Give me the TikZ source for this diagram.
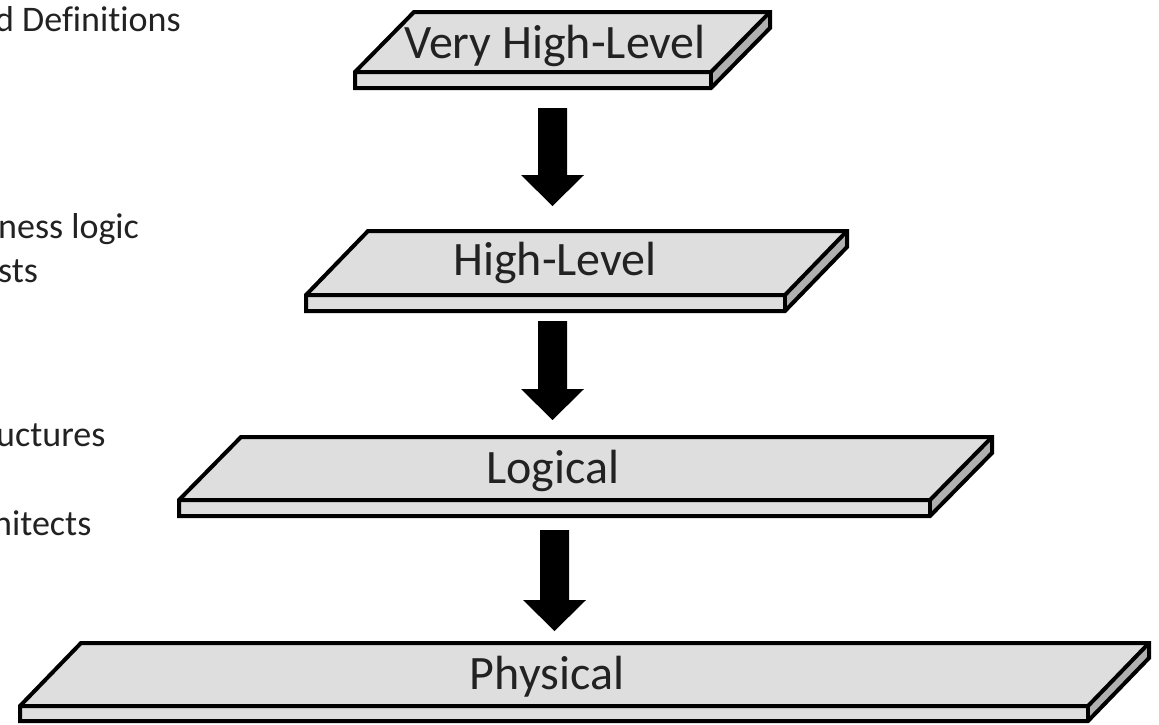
\documentclass[tikz,border=0pt]{standalone}
\usepackage{fontspec}
\setmainfont{Carlito}[Ligatures=NoCommon]
\usetikzlibrary{calc}
\definecolor{slabtop}{HTML}{DEDEDE}
\definecolor{slabside}{HTML}{B0B0B0}
\definecolor{ink}{HTML}{222222}
\tikzset{
  slabline/.style={draw=black, line width=4pt, line join=miter},
  slabtext/.style={font=\fontsize{48}{54}\selectfont, text=ink, inner sep=0pt},
  sidetext/.style={font=\fontsize{36}{42}\selectfont, text=ink, inner sep=0pt, anchor=base west},
  blockarrow/.style={fill=black, draw=none},
}
% slab: #1 name, #2 front-left x, #3 front-right x, #4 front-top y, #5 depth dx, #6 depth dy, #7 thickness
\newcommand{\slab}[7]{%
  \coordinate (#1-fl) at (#2,#4);
  \coordinate (#1-fr) at (#3,#4);
  \coordinate (#1-bl) at (#2+#5,#4-#6);
  \coordinate (#1-br) at (#3+#5,#4-#6);
  \coordinate (#1-flb) at (#2,#4+#7);
  \coordinate (#1-frb) at (#3,#4+#7);
  \coordinate (#1-brb) at (#3+#5,#4-#6+#7);
  \fill[slabtop] (#1-fl) -- (#1-bl) -- (#1-br) -- (#1-fr) -- cycle;
  \fill[slabtop] (#1-fl) -- (#1-fr) -- (#1-frb) -- (#1-flb) -- cycle;
  \fill[slabside] (#1-fr) -- (#1-br) -- (#1-brb) -- (#1-frb) -- cycle;
  \draw[slabline] (#1-fl) -- (#1-bl) -- (#1-br) -- (#1-brb) -- (#1-frb) -- (#1-flb) -- cycle;
  \draw[slabline] (#1-fl) -- (#1-fr) -- (#1-br);
  \draw[slabline] (#1-fr) -- (#1-frb);
}
% block arrow from (#1) pointing down to (#2)
\newcommand{\blockarrow}[2]{%
  \fill[blockarrow] ($(#1)+(-14.5,0)$) -- ($(#1)+(14.5,0)$) -- ($(#2)+(14.5,-31)$)
    -- ($(#2)+(31.5,-31)$) -- (#2) -- ($(#2)+(-31.5,-31)$) -- ($(#2)+(-14.5,-31)$) -- cycle;
}
\begin{document}
\begin{tikzpicture}[x=1pt, y=-1pt]
  \useasboundingbox (0,0) rectangle (1159,724);
  \fill[white] (0,0) rectangle (1159,724);

  % side notes (cut at the left edge)
  \node[sidetext] (n1) at (-5,31) {d Definitions};
  \node[sidetext] (n2) at (-2,238) {ness logic};
  \node[sidetext] (n3) at (-2,282) {sts};
  \node[sidetext] (n4) at (-4,446) {uctures};
  \node[sidetext] (n5) at (-7,535) {nitects};

  % the four layers
  \slab{vhl}{355}{711}{72}{59}{60}{16}
  \slab{hl}{306}{785}{295}{62}{64}{16}
  \slab{lg}{179}{930}{500}{62}{63}{16}
  \slab{ph}{20}{1088}{706}{61}{63}{15}

  \node[slabtext] (tvhl) at (555,46) {Very High-Level};
  \node[slabtext] (thl) at (555,263) {High-Level};
  \node[slabtext] (tlg) at (553,471) {Logical};
  \node[slabtext] (tph) at (547,677) {Physical};

  % arrows between layers
  \coordinate (a1s) at (552.5,108); \coordinate (a1e) at (552.5,206);
  \coordinate (a2s) at (552.5,321); \coordinate (a2e) at (552.5,420);
  \coordinate (a3s) at (554.5,530); \coordinate (a3e) at (554.5,631);
  \blockarrow{a1s}{a1e}
  \blockarrow{a2s}{a2e}
  \blockarrow{a3s}{a3e}
\end{tikzpicture}
\end{document}
